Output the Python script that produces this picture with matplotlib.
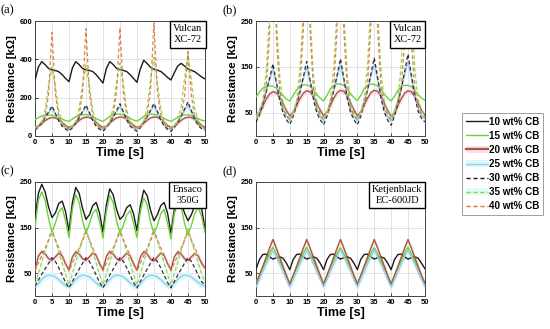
import matplotlib
matplotlib.use("Agg")
import matplotlib.pyplot as plt
from matplotlib.lines import Line2D
from matplotlib.patches import Patch

# ---- data (t = 0..50 s, 1 s steps) ----
t = list(range(51))

# Vulcan XC-72 (panels a and b)
v10 = [290, 360, 388, 372, 352, 345, 342, 335, 320, 300, 283,
       355, 388, 372, 352, 345, 342, 336, 320, 298, 276,
       352, 388, 373, 353, 346, 342, 336, 320, 300, 280,
       350, 395, 378, 358, 348, 343, 337, 322, 305, 292,
       330, 365, 379, 365, 350, 343, 335, 322, 308, 298]
v15 = [85, 95, 104, 108, 109, 108, 104, 96, 88, 80, 76,
       88, 100, 108, 111, 111, 108, 100, 90, 82, 76,
       88, 102, 110, 113, 113, 110, 102, 92, 83, 77,
       88, 102, 110, 113, 112, 109, 101, 91, 82, 76,
       86, 99, 107, 110, 110, 107, 99, 90, 82, 78]
v20 = [40, 50, 65, 80, 91, 96, 94, 85, 70, 55, 44,
       52, 66, 81, 93, 98, 96, 86, 71, 56, 44,
       52, 67, 82, 94, 99, 97, 87, 72, 56, 44,
       52, 67, 82, 94, 99, 97, 87, 71, 55, 43,
       51, 66, 81, 93, 98, 96, 86, 71, 56, 45]
v25 = [38, 55, 75, 98, 122, 145, 115, 82, 58, 42, 34,
       52, 74, 98, 125, 150, 118, 84, 58, 42, 33,
       52, 75, 100, 128, 155, 120, 85, 58, 42, 33,
       52, 76, 101, 130, 156, 121, 85, 58, 41, 32,
       52, 77, 103, 133, 162, 125, 87, 60, 44, 38]
v30 = [30, 45, 68, 95, 125, 157, 118, 78, 50, 35, 25,
       42, 66, 95, 128, 162, 122, 80, 50, 35, 24,
       42, 67, 97, 132, 168, 126, 82, 51, 35, 24,
       42, 68, 99, 134, 170, 128, 83, 51, 34, 23,
       43, 70, 102, 140, 178, 133, 86, 54, 38, 30]
v35 = [45, 55, 75, 140, 265, 360, 255, 130, 70, 50, 40,
       52, 75, 145, 270, 370, 260, 132, 72, 50, 40,
       52, 76, 148, 275, 380, 265, 135, 72, 50, 40,
       53, 78, 152, 290, 410, 280, 140, 74, 52, 42,
       54, 80, 155, 300, 425, 290, 145, 78, 56, 46]
v40 = [35, 45, 60, 100, 220, 540, 220, 100, 60, 45, 35,
       45, 62, 105, 230, 560, 228, 102, 62, 45, 35,
       45, 62, 106, 232, 565, 230, 104, 62, 45, 35,
       46, 64, 108, 240, 590, 236, 106, 63, 46, 36,
       47, 64, 105, 205, 440, 210, 100, 64, 48, 40]

# Ensaco 350G (panel c)
e10 = [170, 225, 245, 228, 195, 172, 182, 203, 208, 185, 142,
       205, 238, 225, 192, 168, 178, 198, 205, 182, 140,
       200, 235, 222, 190, 168, 176, 194, 200, 180, 143,
       198, 232, 220, 188, 165, 178, 198, 205, 182, 138,
       190, 212, 205, 182, 165, 178, 198, 210, 192, 150]
e15 = [150, 210, 228, 210, 170, 140, 160, 185, 193, 165, 128,
       190, 222, 205, 165, 138, 158, 182, 190, 162, 127,
       185, 220, 205, 165, 138, 155, 178, 187, 160, 128,
       185, 215, 200, 162, 137, 155, 180, 190, 160, 125,
       180, 205, 195, 160, 135, 155, 180, 195, 175, 140]
e20 = [57, 88, 98, 92, 82, 78, 86, 94, 88, 70, 58,
       86, 97, 92, 82, 78, 86, 94, 89, 71, 58,
       87, 98, 92, 82, 78, 86, 94, 88, 70, 57,
       86, 97, 92, 81, 77, 86, 94, 89, 71, 58,
       86, 97, 92, 82, 78, 86, 93, 88, 72, 62]
e25 = [20, 28, 37, 43, 46, 45, 42, 36, 29, 23, 20,
       27, 36, 43, 46, 45, 42, 36, 29, 23, 20,
       27, 36, 43, 46, 45, 42, 36, 29, 23, 20,
       27, 36, 43, 46, 45, 42, 36, 29, 23, 21,
       28, 37, 43, 46, 45, 42, 36, 30, 25, 22]
e30 = [22, 35, 48, 60, 72, 84, 76, 62, 46, 30, 18,
       32, 46, 59, 72, 84, 76, 62, 46, 30, 18,
       32, 46, 59, 72, 84, 76, 62, 46, 30, 18,
       32, 46, 59, 72, 84, 76, 62, 46, 30, 18,
       32, 46, 59, 72, 84, 76, 62, 46, 32, 24]
e35 = [25, 50, 75, 100, 125, 148, 122, 97, 72, 47, 24,
       50, 75, 100, 125, 148, 122, 97, 72, 47, 24,
       50, 75, 100, 125, 148, 122, 97, 72, 47, 24,
       50, 75, 100, 125, 148, 122, 97, 72, 47, 24,
       50, 75, 100, 125, 148, 122, 97, 72, 50, 30]
e40 = [55, 72, 88, 105, 122, 140, 123, 106, 89, 72, 55,
       72, 88, 105, 122, 140, 123, 106, 89, 72, 55,
       72, 88, 105, 122, 140, 123, 106, 89, 72, 55,
       72, 88, 105, 122, 140, 123, 106, 89, 72, 55,
       72, 88, 105, 122, 140, 123, 106, 89, 74, 60]

# Ketjenblack EC-600JD (panel d)
k10 = [59, 80, 91, 92, 86, 81, 84, 86, 83, 72, 58,
       80, 91, 92, 86, 81, 84, 86, 83, 72, 58,
       80, 91, 92, 86, 81, 84, 86, 83, 72, 58,
       80, 91, 92, 86, 81, 84, 86, 83, 72, 58,
       80, 91, 92, 86, 81, 84, 86, 83, 72, 60]
k15 = [31, 46, 62, 78, 94, 107, 93, 77, 61, 45, 28,
       45, 62, 78, 94, 107, 93, 77, 61, 45, 28,
       45, 62, 78, 94, 106, 93, 77, 61, 45, 28,
       45, 62, 78, 94, 106, 93, 77, 61, 45, 28,
       45, 62, 78, 94, 107, 93, 77, 61, 45, 30]
k20 = [25, 45, 65, 85, 105, 124, 105, 85, 65, 45, 25,
       45, 65, 85, 105, 124, 105, 85, 65, 45, 25,
       45, 65, 85, 105, 124, 105, 85, 65, 45, 25,
       45, 65, 85, 105, 124, 105, 85, 65, 45, 25,
       45, 65, 85, 105, 124, 105, 85, 65, 45, 27]
k25 = [20, 36, 53, 70, 86, 100, 86, 70, 53, 36, 20,
       36, 53, 70, 86, 100, 86, 70, 53, 36, 20,
       36, 53, 70, 86, 102, 86, 70, 53, 36, 20,
       36, 53, 70, 86, 102, 86, 70, 53, 36, 20,
       36, 53, 70, 86, 100, 86, 70, 53, 36, 22]

labels = ['10 wt% CB', '15 wt% CB', '20 wt% CB', '25 wt% CB',
          '30 wt% CB', '35 wt% CB', '40 wt% CB']
colors = ['#1a1a1a', '#6fcf3a', '#a5583a', '#9fc8ea',
          '#1a1a1a', '#9acd32', '#d7763a']
styles = ['-', '-', '-', '-', (0, (3, 2)), (0, (3, 2)), (0, (3, 2))]
bands = {2: '#f9dff0', 3: '#d9fbfb', 5: '#dcfcf6'}

plt.rcParams['font.family'] = ['Liberation Sans', 'DejaVu Sans']

fig = plt.figure(figsize=(5.5, 3.29), dpi=100)

panels = [
    ('(a)', [0.0636, 0.587, 0.309, 0.349], [v10, v15, v20, v25, v30, v35, v40],
     'Vulcan\nXC-72', (0, 600), [0, 200, 400, 600]),
    ('(b)', [0.4655, 0.587, 0.307, 0.349], [v10, v15, v20, v25, v30, v35, v40],
     'Vulcan\nXC-72', (0, 250), [50, 150, 250]),
    ('(c)', [0.0636, 0.100, 0.309, 0.347], [e10, e15, e20, e25, e30, e35, e40],
     'Ensaco\n350G', (0, 250), [50, 150, 250]),
    ('(d)', [0.4655, 0.100, 0.307, 0.347], [k10, k15, k20, k25],
     'Ketjenblack\nEC-600JD', (0, 250), [50, 150, 250]),
]

for letter, pos, series, name, ylim, yticks in panels:
    ax = fig.add_axes(pos)
    # shaded bands first
    for i, y in enumerate(series):
        if i in bands:
            ax.fill_between(t, [v - 7 for v in y], [v + 7 for v in y],
                            color=bands[i], lw=0, zorder=1)
    for i, y in enumerate(series):
        dashed = i >= 4
        ax.plot(t, y, color=colors[i], ls=styles[i],
                lw=0.9 if dashed else 1.0, alpha=0.9 if dashed else 1.0, zorder=3)
    ax.set_xlim(0, 50)
    ax.set_ylim(*ylim)
    ax.set_xticks(range(0, 51, 5))
    ax.set_yticks(yticks)
    ax.grid(True, color='#dddddd', lw=0.6)
    ax.set_axisbelow(True)
    ax.tick_params(direction='in', length=2, width=0.5, labelsize=5.5, pad=2)
    for lab in ax.get_xticklabels() + ax.get_yticklabels():
        lab.set_fontweight('bold')
    for sp in ax.spines.values():
        sp.set_color('#444444')
        sp.set_linewidth(0.7)
    ax.set_xlabel('Time [s]', fontsize=9, fontweight='bold', labelpad=1)
    ax.set_ylabel('Resistance [k\u03a9]', fontsize=8.2, fontweight='bold', labelpad=2)
    ax.text(-0.2, 1.04, letter, transform=ax.transAxes, fontsize=9,
            family='Liberation Serif', ha='left', va='bottom')
    ax.text(0.985, 0.975, name, transform=ax.transAxes, ha='right', va='top',
            fontsize=7.5, family='Liberation Serif', linespacing=1.35,
            multialignment='center', zorder=5,
            bbox=dict(boxstyle='square,pad=0.3', fc='white', ec='black', lw=1.0))

handles = []
for i in range(7):
    ln = Line2D([], [], color=colors[i], ls=styles[i], lw=1.0 if i != 2 else 1.6)
    if i in bands:
        handles.append((Patch(facecolor=bands[i], edgecolor='none'), ln))
    else:
        handles.append(ln)

leg = fig.legend(handles, labels, loc='center left',
                 bbox_to_anchor=(462 / 550, 1 - 164 / 329),
                 prop={'weight': 'bold', 'size': 7.1}, frameon=True,
                 fancybox=False, edgecolor='#888888', handlelength=2.2,
                 handletextpad=0.15, labelspacing=0.42, borderpad=0.4,
                 borderaxespad=0)
leg.get_frame().set_linewidth(0.7)

fig.savefig('out.png', dpi=100)
